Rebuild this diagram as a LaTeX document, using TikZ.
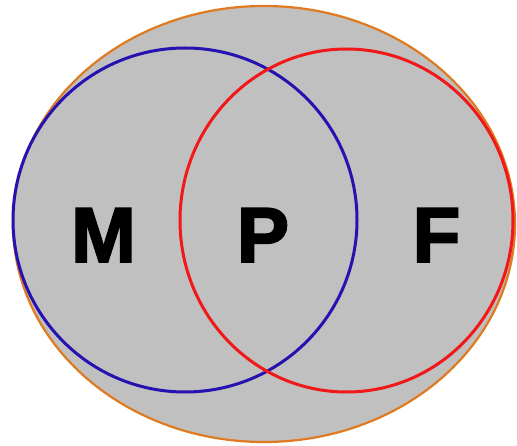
\documentclass[tikz,border=0pt]{standalone}
\usepackage{fontspec}
\setsansfont{Liberation Sans}
\newfontfamily\heavyface[FakeBold=2.5]{Liberation Sans Bold}
\usepackage{tikz}
\definecolor{setFill}{HTML}{C0C0C0}
\definecolor{setEdge}{HTML}{E07A20}
\definecolor{mset}{HTML}{2512B0}
\definecolor{fset}{HTML}{F01818}

\begin{document}
\begin{tikzpicture}[
  x=1pt, y=-1pt,
  font=\heavyface\fontsize{78}{78}\selectfont,
  universe/.style={fill=setFill, draw=setEdge, line width=2.2pt},
  mring/.style={draw=mset, line width=3pt},
  fring/.style={draw=fset, line width=3pt},
  tag/.style={inner sep=0pt, anchor=base}
]
  \useasboundingbox (0,0) rectangle (517,446);

  \draw[universe] (264,224) ellipse [x radius=251, y radius=218];
  \draw[mring] (185,220) circle [radius=172];
  \draw[fring] (346.5,220.5) ellipse [x radius=166.5, y radius=171.5];

  \node[tag] (m) at (103.5,262) {M};
  \node[tag] (p) at (263,262) {P};
  \node[tag] (f) at (436.5,262) {F};
\end{tikzpicture}
\end{document}
